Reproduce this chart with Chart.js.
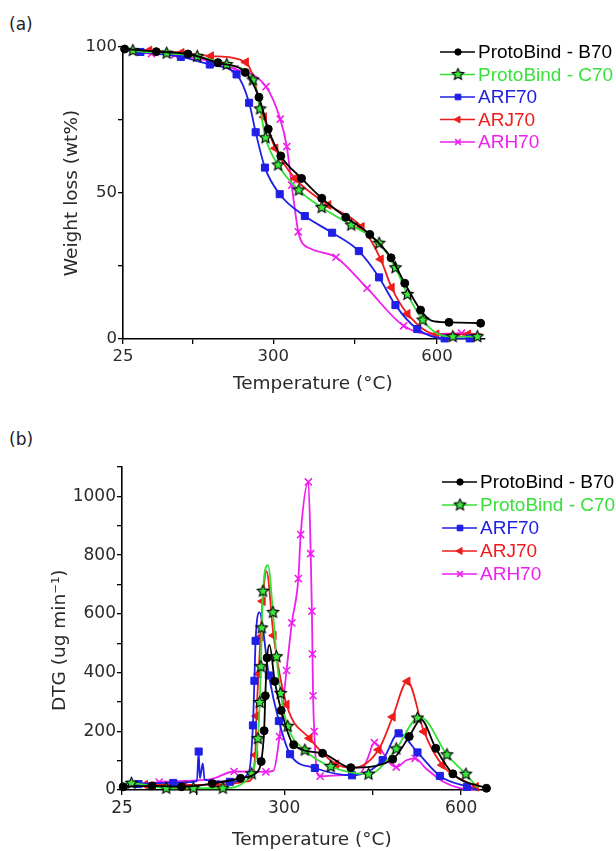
<!DOCTYPE html>
<html>
<head>
<meta charset="utf-8">
<script src="https://cdn.jsdelivr.net/npm/chart.js@4.4.1/dist/chart.umd.min.js"></script>
<style>
  body { margin: 0; background: #fff; width: 616px; height: 851px; overflow: hidden; position: relative; font-family: "DejaVu Sans", sans-serif; }
  .tag { position: absolute; left: 9px; font-size: 17px; color: #222; }
  canvas { position: absolute; left: 0; }
</style>
</head>
<body>
<div class="tag" style="top:14px">(a)</div>
<div class="tag" style="top:429px">(b)</div>
<canvas id="chartA" width="616" height="400" style="top:0"></canvas>
<canvas id="chartB" width="616" height="431" style="top:420px"></canvas>
<script>
const seriesNames = ["ProtoBind - B70", "ProtoBind - C70", "ARF70", "ARJ70", "ARH70"];

// (a) weight loss, [temperature, wt%]; "Bare" = points on the curve without a marker
const tgB70 = [[28,99.3],[86,98.4],[144,97.6],[199,94.6],[249,91.3],[274,82.8],[291,71.9],[314,62.7],[352,55],[389,48.2],[433,41.7],[477,35.8],[516,27.8],[541,19.1],[570,9.9],[622,5.7],[680,5.4]];
const tgB70Bare = [[590,6.3]];
const tgC70 = [[43,98.8],[105,97.9],[161,96.8],[215,94],[263,88.7],[276,78.8],[286,68.9],[309,59.6],[347,51],[389,45],[443,39],[494,32.8],[524,24.4],[546,15.3],[574,6.5],[629,0.8],[674,0.8]];
const tgC70Bare = [[25,99.6],[600,1.9]];
const tgARF70 = [[57,98.3],[131,96.6],[184,94],[233,90.6],[256,80.9],[268,70.8],[285,58.7],[312,49.6],[358,42.1],[408,36.4],[457,30.1],[494,21.1],[524,11.6],[564,3.4],[614,0.2],[660,0.2]];
const tgARF70Bare = [[25,99.3],[680,0.2]];
const tgARJ70 = [[73,98.8],[132,98],[186,96.9],[250,94.8],[283,76],[304,65.3],[340,55],[401,45.9],[462,38.4],[497,27.3],[517,17.6],[546,8.6],[599,1.6],[657,1.6]];
const tgARJ70Bare = [[25,99.4],[260,91.5],[683,1.6]];
const tgARH70 = [[77,97.7],[120,97.3],[230,92.5],[287,86.4],[313,75.3],[325,65.9],[334,52.7],[346,36.7],[415,28],[472,17.4],[539,4.5],[645,2]];
const tgARH70Bare = [[25,99],[352,33.3],[370,30.8],[590,1.6],[680,1.6]];

// (b) DTG, [temperature, ug/min]
const dtgB70 = [[27,11],[76,14],[126,11],[178,22],[226,40],[261,97],[266,202],[268,321],[271,450],[284,370],[295,271],[316,154],[365,125],[413,76],[484,105],[512,182],[557,142],[586,55],[643,6]];
const dtgB70Bare = [[252,58],[275,494],[532,240]];
const dtgC70 = [[41,23],[100,6],[146,6],[196,6],[245,55],[255.5,175],[258.5,298],[260.5,420],[262,552],[264,677],[281,605],[287,454],[294,329],[306,217],[335,136],[379,80],[443,54],[490,140],[526,245],[576,120],[608,54]];
const dtgC70Bare = [[25,18],[272.5,766],[532,246],[628,8]];
const dtgARF70 = [[53,20],[112,24],[155,131],[208,28],[247,220],[249.5,372],[251.5,508],[274,390],[291,235],[310,122],[352,75],[415,50],[467,102],[494,193],[526,128],[564,48],[610,11]];
const dtgARF70Bare = [[25,12],[152,30],[157,40],[162,91],[165,35],[240,60],[258,605],[628,0]];
const dtgARJ70 = [[64,18],[130,17],[185,18],[251,119],[253,252],[256.5,395],[260,522],[263.5,643],[282,526],[304,291],[343,176],[388,88],[460,137],[484,249],[509,370],[537,199],[568,85],[625,11]];
const dtgARJ70Bare = [[25,12],[240,30],[270,745],[418,76]];
const dtgARH70 = [[88,27],[215,63],[269,62],[292,182],[304,407],[313,569],[324,720],[328,870],[341,1049],[345,805],[347,609],[348,463],[349,321],[351,199],[361,47],[453,161],[490,78],[522,108]];
const dtgARH70Bare = [[25,10],[176,37],[282,66],[356,57],[400,51],[429,57],[441,105],[479,92],[508,102],[540,74],[570,28],[598,6],[622,0]];

const tempTicks = [25, 152, 300, 450, 600];
const tempLabels = [25, 300, 600];

function makeStar(r) {
  const c = document.createElement("canvas");
  const s = Math.ceil(r * 2 + 3);
  c.width = s; c.height = s;
  const g = c.getContext("2d");
  g.translate(s / 2, s / 2);
  g.beginPath();
  for (let i = 0; i < 10; i++) {
    const rr = i % 2 ? r * 0.48 : r;
    const a = -Math.PI / 2 + i * Math.PI / 5;
    g.lineTo(rr * Math.cos(a), rr * Math.sin(a));
  }
  g.closePath();
  g.fillStyle = "#3de83d";
  g.fill();
  g.lineWidth = 1.1;
  g.strokeStyle = "#000";
  g.stroke();
  return c;
}

const looks = [
  { color: "#000000", text: "#000000", point: "circle", radius: 4, rot: 0 },
  { color: "#33e033", text: "#3ae03a", point: makeStar(6), radius: 5, rot: 0 },
  { color: "#1f1fe6", text: "#2020e0", point: "rect", radius: 5, rot: 0 },
  { color: "#f01c1c", text: "#f01c1c", point: "triangle", radius: 5, rot: -90 },
  { color: "#ee1fee", text: "#ee1fee", point: "crossRot", radius: 5, rot: 0 }
];

function mergePts(marked, bare) {
  return marked.map(p => ({ x: p[0], y: p[1] }))
    .concat(bare.map(p => ({ x: p[0], y: p[1], bare: true })))
    .sort((a, b) => a.x - b.x);
}

function makeSets(pairs) {
  return pairs.map((pr, i) => {
    const lk = looks[i];
    return {
      label: seriesNames[i],
      data: mergePts(pr[0], pr[1]),
      borderColor: lk.color,
      borderWidth: 1.8,
      pointStyle: lk.point,
      pointRotation: lk.rot,
      pointRadius: ctx => (ctx.raw && ctx.raw.bare ? 0 : lk.radius),
      pointBackgroundColor: lk.color,
      pointBorderColor: lk.color,
      pointBorderWidth: lk.point === "crossRot" ? 1.6 : 1,
      cubicInterpolationMode: "monotone",
      clip: 8,
      legendColor: lk.text,
      legendRadius: lk.radius * 0.8
    };
  });
}

const sideLegend = {
  id: "sideLegend",
  afterDraw(chart, args, opts) {
    const ctx = chart.ctx;
    ctx.save();
    ctx.font = '19px "Liberation Sans", Arial, sans-serif';
    ctx.textBaseline = "middle";
    chart.data.datasets.forEach((ds, i) => {
      const y = opts.y + i * opts.gap;
      ctx.strokeStyle = ds.borderColor;
      ctx.lineWidth = 1.6;
      ctx.beginPath();
      ctx.moveTo(opts.x, y);
      ctx.lineTo(opts.x + 35, y);
      ctx.stroke();
      ctx.fillStyle = ds.pointBackgroundColor;
      ctx.strokeStyle = ds.pointBorderColor;
      ctx.lineWidth = ds.pointBorderWidth;
      Chart.helpers.drawPoint(ctx, {
        pointStyle: ds.pointStyle,
        rotation: ds.pointRotation,
        radius: ds.legendRadius,
        borderWidth: ds.pointBorderWidth
      }, opts.x + 18, y);
      ctx.fillStyle = ds.legendColor;
      ctx.fillText(ds.label, opts.x + 38, y + 1);
    });
    ctx.restore();
  }
};

function axisX(max, tickSize, title, titlePad) {
  return {
    type: "linear",
    min: 25,
    max: max,
    afterBuildTicks: s => { s.ticks = tempTicks.map(v => ({ value: v })); },
    afterFit: s => { s.height = 61; },
    grid: { display: true, drawOnChartArea: false, drawTicks: true, tickLength: 5, color: "#000", lineWidth: 1.3 },
    border: { display: true, color: "#000", width: 1.6 },
    ticks: {
      autoSkip: false, maxRotation: 0, padding: 3, color: "#2a2a2a",
      font: { family: "DejaVu Sans", size: tickSize },
      callback: v => (tempLabels.includes(v) ? String(v) : "")
    },
    title: {
      display: true, text: title, color: "#2a2a2a",
      font: { family: "DejaVu Sans", size: 18.5 },
      padding: { top: 0, bottom: titlePad }
    }
  };
}

function axisY(max, step, every, width, tickSize, title, titlePad) {
  return {
    min: 0,
    max: max,
    ticks: {
      stepSize: step, padding: 1, color: "#2a2a2a",
      font: { family: "DejaVu Sans", size: tickSize },
      callback: v => (v % every === 0 ? String(v) : "")
    },
    afterFit: s => { s.width = width; },
    grid: { display: true, drawOnChartArea: false, drawTicks: true, tickLength: 5, color: "#000", lineWidth: 1.3 },
    border: { display: true, color: "#000", width: 1.6 },
    title: {
      display: true, text: title, color: "#2a2a2a",
      font: { family: "DejaVu Sans", size: 18.5 },
      padding: { top: titlePad, bottom: 0 }
    }
  };
}

new Chart(document.getElementById("chartA"), {
  type: "line",
  data: {
    datasets: makeSets([
      [tgB70, tgB70Bare], [tgC70, tgC70Bare], [tgARF70, tgARF70Bare],
      [tgARJ70, tgARJ70Bare], [tgARH70, tgARH70Bare]
    ])
  },
  options: {
    responsive: false,
    animation: false,
    events: [],
    layout: { padding: { left: 0, top: 47, right: 131, bottom: 0 } },
    plugins: { legend: { display: false }, tooltip: { enabled: false }, sideLegend: { x: 440, y: 52, gap: 22.5 } },
    scales: {
      x: axisX(688, 16.5, "   Temperature (°C)", 5),
      y: axisY(100, 25, 50, 123, 16.5, "Weight loss (wt%)", 61)
    }
  },
  plugins: [sideLegend]
});

new Chart(document.getElementById("chartB"), {
  type: "line",
  data: {
    datasets: makeSets([
      [dtgB70, dtgB70Bare], [dtgC70, dtgC70Bare], [dtgARF70, dtgARF70Bare],
      [dtgARJ70, dtgARJ70Bare], [dtgARH70, dtgARH70Bare]
    ])
  },
  options: {
    responsive: false,
    animation: false,
    events: [],
    layout: { padding: { left: 0, top: 47, right: 126, bottom: 0 } },
    plugins: { legend: { display: false }, tooltip: { enabled: false }, sideLegend: { x: 442, y: 62, gap: 23 } },
    scales: {
      x: axisX(649, 17, "  Temperature (°C)", 0),
      y: axisY(1100, 100, 200, 122, 17, "DTG (ug min⁻¹)    ", 49)
    }
  },
  plugins: [sideLegend]
});
</script>
</body>
</html>
